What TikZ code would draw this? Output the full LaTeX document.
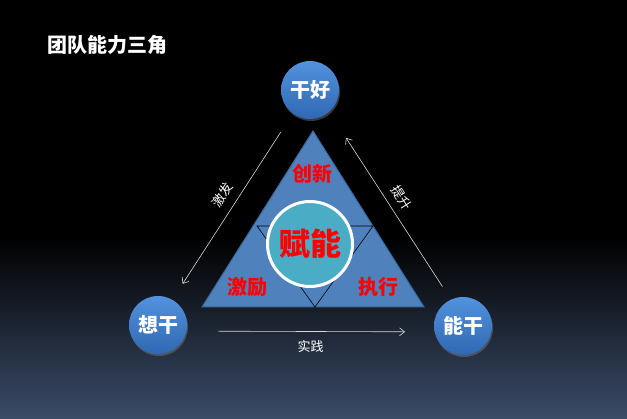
\documentclass[tikz,border=0pt]{standalone}
\usepackage{fontspec}
\newfontfamily\cjk{Noto Sans CJK SC}
\usepackage{xcolor}
\usepackage{tikz}
\usetikzlibrary{positioning,calc,arrows.meta,shadows}
\definecolor{triblue}{RGB}{79,129,189}
\definecolor{triedge}{RGB}{60,104,155}
\definecolor{coreteal}{RGB}{75,172,198}
\definecolor{balltop}{RGB}{82,146,222}
\definecolor{ballbot}{RGB}{48,104,178}
\definecolor{linegray}{RGB}{215,215,215}
\definecolor{bgbottom}{RGB}{59,76,104}

\begin{document}
\begin{tikzpicture}[
	x=1pt, y=-1pt,
	ball/.style={circle, minimum size=58pt, inner sep=0pt, top color=balltop, bottom color=ballbot, text=white, font=\cjk\bfseries\fontsize{20}{20}\selectfont, drop shadow={opacity=0.45, shadow xshift=1pt, shadow yshift=-2pt}},
	word/.style={text=red, font=\cjk\bfseries\fontsize{20}{20}\selectfont},
	link/.style={draw=linegray, line width=0.6pt, -{Straight Barb[length=5pt,width=8pt]}},
	tag/.style={text=white, font=\cjk\fontsize{13}{13}\selectfont, inner sep=1pt}
	]
	\useasboundingbox (0,0) rectangle (627,419);
	% Hintergrund: oben schwarz, unten blaugrau
	\fill[black] (0,0) rectangle (627,238);
	\fill[top color=black, bottom color=bgbottom] (0,237) rectangle (627,419);
	
	\node[anchor=west, text=white, font=\cjk\bfseries\fontsize{20}{20}\selectfont] (title) at (44,45) {团队能力三角};
	
	% Dreieck mit Mittel-Dreieck
	\coordinate (top) at (313,131);
	\coordinate (bl) at (202,307);
	\coordinate (br) at (424,307);
	\fill[triblue, draw=triedge, line width=1pt] (top) -- (bl) -- (br) -- cycle;
	\coordinate (ml) at (257,226);
	\coordinate (mr) at (373,226);
	\coordinate (mb) at (315,307);
	\draw[black, line width=0.6pt] (ml) -- (mr) -- (mb) -- cycle;
	
	\node[circle, minimum size=85pt, fill=coreteal, draw=white, line width=3pt, text=red, font=\cjk\bfseries\fontsize{31}{31}\selectfont] (core) at (310,244) {赋能};
	\node[word] (cx) at (312,174) {创新};
	\node[word] (jl) at (247,287) {激励};
	\node[word] (zx) at (378,287) {执行};
	
	% die drei Kugeln
	\node[ball] (gh) at (310,90) {干好};
	\node[ball] (xg) at (158,325) {想干};
	\node[ball] (ng) at (463,326) {能干};
	
	% Pfeile zwischen den Kugeln
	\draw[link, shorten <=50pt, shorten >=49pt] ([xshift=-2pt]gh.center) -- node[tag, sloped, above=8pt, pos=0.48] {激发} ([xshift=-2pt]xg.center);
	\draw[link, shorten <=47pt, shorten >=57pt] ([xshift=5pt]ng.center) -- node[tag, sloped, above=7pt, pos=0.51] {提升} ([xshift=5pt]gh.center);
	\draw[link, shorten <=60pt, shorten >=58pt] ([yshift=-6pt]xg.center) -- node[tag, below=8pt] {实践} ([yshift=-6pt]ng.center);
\end{tikzpicture}
\end{document}
